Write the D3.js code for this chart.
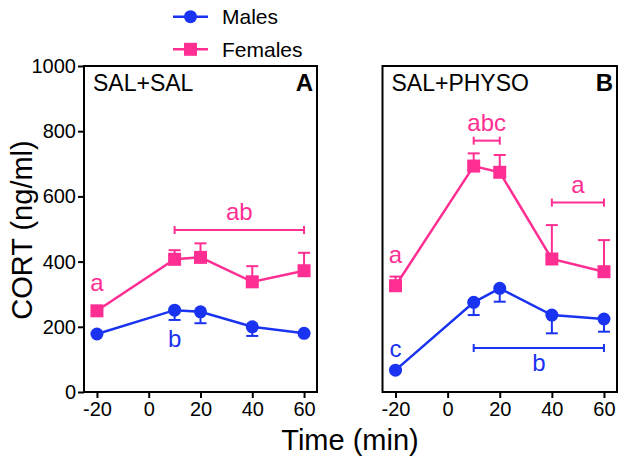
<!DOCTYPE html>
<html><head><meta charset="utf-8">
<script src="https://cdn.jsdelivr.net/npm/d3@7"></script>
<style>body{margin:0;background:#fff}svg{display:block}text{font-family:Arial,"Liberation Sans",sans-serif}</style>
</head><body>
<svg id="c" width="626" height="463"></svg>
<script>
const times = [-20, 10, 20, 40, 60];
const xTicks = [-20, 0, 20, 40, 60];
const yTicks = [0, 200, 400, 600, 800, 1000];
const seriesNames = ["Males", "Females"];
const panelTitles = ["SAL+SAL", "SAL+PHYSO"];
const panelLetters = ["A", "B"];
// Panel A
const malesA = [178, 251, 246, 200, 180];
const malesAErr = [0, 30, 35, 28, 0];
const femalesA = [249, 407, 413, 338, 372];
const femalesAErr = [0, 28, 43, 48, 55];
// Panel B
const malesB = [67, 275, 318, 236, 224];
const malesBErr = [0, 39, 41, 56, 39];
const femalesB = [326, 693, 674, 408, 369];
const femalesBErr = [28, 39, 53, 104, 97];
// Significance annotations
const bracketsA = [{label:"ab", s:1, x1:10, x2:60, v:497}];
const bracketsB = [{label:"abc", s:1, x1:10, x2:20, v:771},{label:"a", s:1, x1:40, x2:60, v:581},{label:"b", s:0, x1:10, x2:60, v:135}];
const lettersA = [{label:"a", s:1, t:-20, v:334},{label:"b", s:0, t:10, v:163}];
const lettersB = [{label:"a", s:1, t:-20, v:420},{label:"c", s:0, t:-20, v:132}];

const colors = ["#1a33f0", "#ff2e93"];
const svg = d3.select("#c");
const yTop = 66, yBot = 392;
const y = d3.scaleLinear().domain([0, 1000]).range([yBot, yTop]);
const fmt = d => String(d);

const panels = [
  {x0:84, x1:317, m:malesA, me:malesAErr, f:femalesA, fe:femalesAErr, br:bracketsA, lt:lettersA, yAxis:true},
  {x0:382.5, x1:617, m:malesB, me:malesBErr, f:femalesB, fe:femalesBErr, br:bracketsB, lt:lettersB, yAxis:false}
];

panels.forEach((p, i) => {
  const x = d3.scaleLinear().domain([-25, 65]).range([p.x0, p.x1]);
  const g = svg.append("g");
  g.append("rect").attr("x", p.x0).attr("y", yTop).attr("width", p.x1 - p.x0).attr("height", yBot - yTop)
    .attr("fill", "none").attr("stroke", "#000").attr("stroke-width", 2);
  const xa = g.append("g").attr("transform", `translate(0,${yBot})`)
    .call(d3.axisBottom(x).tickValues(xTicks).tickSize(6).tickPadding(4).tickFormat(fmt));
  xa.select(".domain").remove();
  xa.selectAll("line").attr("stroke-width", 2);
  xa.selectAll("text").attr("font-size", 20).attr("fill", "#000").attr("dy", "0.72em");
  if (p.yAxis) {
    const ya = g.append("g").attr("transform", `translate(${p.x0},0)`)
      .call(d3.axisLeft(y).tickValues(yTicks).tickSize(6).tickPadding(2).tickFormat(fmt));
    ya.select(".domain").remove();
    ya.selectAll("line").attr("stroke-width", 2);
    ya.selectAll("text").attr("font-size", 20).attr("fill", "#000");
  }
  g.append("text").attr("x", p.x0 + 9).attr("y", 91).attr("font-size", 23).text(panelTitles[i]);
  g.append("text").attr("x", p.x1 - 4).attr("y", 91).attr("font-size", 24).attr("font-weight", "bold")
    .attr("text-anchor", "end").text(panelLetters[i]);

  const line = d3.line().x((d, j) => x(times[j])).y(d => y(d));
  const draw = (vals, errs, s, dir) => {
    const c = colors[s];
    vals.forEach((v, j) => {
      if (!errs[j]) return;
      const e = v + dir * errs[j];
      g.append("line").attr("x1", x(times[j])).attr("x2", x(times[j])).attr("y1", y(v)).attr("y2", y(e))
        .attr("stroke", c).attr("stroke-width", 2);
      g.append("line").attr("x1", x(times[j]) - 6).attr("x2", x(times[j]) + 6).attr("y1", y(e)).attr("y2", y(e))
        .attr("stroke", c).attr("stroke-width", 2);
    });
    g.append("path").datum(vals).attr("d", line).attr("fill", "none").attr("stroke", c).attr("stroke-width", 2.5);
    vals.forEach((v, j) => {
      if (s === 0) g.append("circle").attr("cx", x(times[j])).attr("cy", y(v)).attr("r", 6.5).attr("fill", c);
      else g.append("rect").attr("x", x(times[j]) - 6.5).attr("y", y(v) - 6.5).attr("width", 13).attr("height", 13).attr("fill", c);
    });
  };
  draw(p.f, p.fe, 1, 1);
  draw(p.m, p.me, 0, -1);

  p.br.forEach(b => {
    const c = colors[b.s];
    const yy = y(b.v);
    g.append("line").attr("x1", x(b.x1)).attr("x2", x(b.x2)).attr("y1", yy).attr("y2", yy).attr("stroke", c).attr("stroke-width", 2);
    [b.x1, b.x2].forEach(t => g.append("line").attr("x1", x(t)).attr("x2", x(t)).attr("y1", yy - 4).attr("y2", yy + 4).attr("stroke", c).attr("stroke-width", 2));
    const ly = b.s === 1 ? yy - 10 : yy + 23;
    g.append("text").attr("x", (x(b.x1) + x(b.x2)) / 2).attr("y", ly).attr("text-anchor", "middle")
      .attr("font-size", 24).attr("fill", c).text(b.label);
  });
  p.lt.forEach(l => {
    g.append("text").attr("x", x(l.t)).attr("y", y(l.v) + 8).attr("text-anchor", "middle")
      .attr("font-size", 24).attr("fill", colors[l.s]).text(l.label);
  });
});

svg.append("text").attr("transform", "translate(32,230) rotate(-90)").attr("text-anchor", "middle")
  .attr("font-size", 29).text("CORT (ng/ml)");
svg.append("text").attr("x", 350).attr("y", 450).attr("text-anchor", "middle").attr("font-size", 29).text("Time (min)");

seriesNames.forEach((n, i) => {
  const ly = i === 0 ? 16.7 : 49.3;
  const c = colors[i];
  svg.append("line").attr("x1", 173).attr("x2", 208).attr("y1", ly).attr("y2", ly).attr("stroke", c).attr("stroke-width", 2.5);
  if (i === 0) svg.append("circle").attr("cx", 190.5).attr("cy", ly).attr("r", 6.5).attr("fill", c);
  else svg.append("rect").attr("x", 184).attr("y", ly - 6.5).attr("width", 13).attr("height", 13).attr("fill", c);
  svg.append("text").attr("x", 222).attr("y", ly + 7.5).attr("font-size", 21).text(n);
});
</script>
</body></html>
